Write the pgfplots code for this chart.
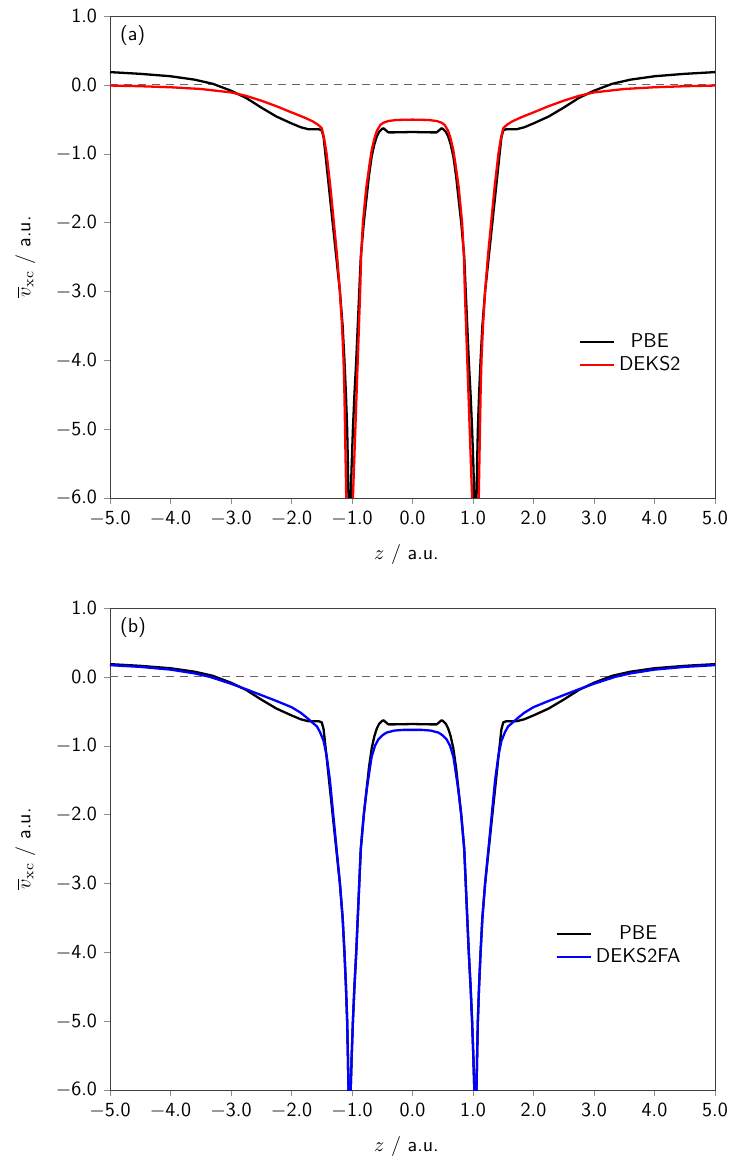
\documentclass[border=0pt]{standalone}
\usepackage{pgfplots}
\pgfplotsset{compat=1.18}
\usepackage{pgfplotstable}

% planar-averaged xc potentials (symmetric in z)
\pgfplotstableread{
z v
-5.00 0.185
-4.50 0.160
-4.00 0.125
-3.60 0.075
-3.30 0.015
-3.00 -0.085
-2.75 -0.19
-2.50 -0.33
-2.25 -0.46
-2.00 -0.56
-1.85 -0.615
-1.72 -0.645
-1.55 -0.645
-1.50 -0.66
-1.47 -0.76
-1.44 -1.00
-1.38 -1.50
-1.32 -2.00
-1.26 -2.50
-1.20 -3.00
-1.155 -3.50
-1.125 -4.00
-1.10 -4.50
-1.08 -5.00
-1.068 -5.50
-1.058 -6.00
-1.04 -6.60
-1.022 -6.00
-1.005 -5.50
-0.985 -5.00
-0.96 -4.50
-0.93 -4.00
-0.905 -3.50
-0.88 -3.00
-0.855 -2.50
-0.805 -2.00
-0.757 -1.62
-0.72 -1.32
-0.675 -1.04
-0.63 -0.86
-0.59 -0.75
-0.55 -0.68
-0.51 -0.645
-0.48 -0.63
-0.44 -0.66
-0.40 -0.69
-0.30 -0.69
0.00 -0.685
0.30 -0.69
0.40 -0.69
0.44 -0.66
0.48 -0.63
0.51 -0.645
0.55 -0.68
0.59 -0.75
0.63 -0.86
0.675 -1.04
0.72 -1.32
0.757 -1.62
0.805 -2.00
0.855 -2.50
0.88 -3.00
0.905 -3.50
0.93 -4.00
0.96 -4.50
0.985 -5.00
1.005 -5.50
1.022 -6.00
1.04 -6.60
1.058 -6.00
1.068 -5.50
1.08 -5.00
1.10 -4.50
1.125 -4.00
1.155 -3.50
1.20 -3.00
1.26 -2.50
1.32 -2.00
1.38 -1.50
1.44 -1.00
1.47 -0.76
1.50 -0.66
1.55 -0.645
1.72 -0.645
1.85 -0.615
2.00 -0.56
2.25 -0.46
2.50 -0.33
2.75 -0.19
3.00 -0.085
3.30 0.015
3.60 0.075
4.00 0.125
4.50 0.160
5.00 0.185
}\pbe

\pgfplotstableread{
z v
-5.00 -0.01
-4.50 -0.02
-4.00 -0.035
-3.50 -0.06
-3.00 -0.11
-2.75 -0.16
-2.50 -0.23
-2.25 -0.31
-2.00 -0.40
-1.80 -0.47
-1.65 -0.53
-1.56 -0.58
-1.50 -0.63
-1.46 -0.78
-1.42 -1.00
-1.355 -1.50
-1.30 -2.00
-1.245 -2.50
-1.20 -3.00
-1.165 -3.50
-1.14 -4.00
-1.125 -4.50
-1.115 -5.00
-1.105 -5.50
-1.095 -6.00
-1.04 -7.60
-0.985 -6.00
-0.965 -5.50
-0.945 -5.00
-0.925 -4.50
-0.905 -4.00
-0.885 -3.50
-0.865 -3.00
-0.85 -2.50
-0.82 -2.00
-0.765 -1.50
-0.71 -1.15
-0.675 -0.95
-0.63 -0.78
-0.59 -0.67
-0.53 -0.58
-0.48 -0.55
-0.40 -0.525
-0.26 -0.51
0.00 -0.505
0.26 -0.51
0.40 -0.525
0.48 -0.55
0.53 -0.58
0.59 -0.67
0.63 -0.78
0.675 -0.95
0.71 -1.15
0.765 -1.50
0.82 -2.00
0.85 -2.50
0.865 -3.00
0.885 -3.50
0.905 -4.00
0.925 -4.50
0.945 -5.00
0.965 -5.50
0.985 -6.00
1.04 -7.60
1.095 -6.00
1.105 -5.50
1.115 -5.00
1.125 -4.50
1.14 -4.00
1.165 -3.50
1.20 -3.00
1.245 -2.50
1.30 -2.00
1.355 -1.50
1.42 -1.00
1.46 -0.78
1.50 -0.63
1.56 -0.58
1.65 -0.53
1.80 -0.47
2.00 -0.40
2.25 -0.31
2.50 -0.23
2.75 -0.16
3.00 -0.11
3.50 -0.06
4.00 -0.035
4.50 -0.02
5.00 -0.01
}\deks

\pgfplotstableread{
z v
-5.00 0.17
-4.50 0.145
-4.00 0.105
-3.60 0.05
-3.35 0.00
-3.00 -0.10
-2.75 -0.18
-2.50 -0.265
-2.25 -0.35
-2.00 -0.44
-1.85 -0.52
-1.75 -0.59
-1.66 -0.66
-1.58 -0.72
-1.53 -0.80
-1.47 -0.93
-1.42 -1.14
-1.365 -1.50
-1.31 -2.00
-1.255 -2.50
-1.20 -3.00
-1.155 -3.50
-1.125 -4.00
-1.10 -4.50
-1.08 -5.00
-1.068 -5.50
-1.058 -6.00
-1.04 -6.60
-1.022 -6.00
-1.005 -5.50
-0.985 -5.00
-0.96 -4.50
-0.93 -4.00
-0.905 -3.50
-0.88 -3.00
-0.855 -2.50
-0.805 -2.00
-0.757 -1.64
-0.70 -1.30
-0.675 -1.16
-0.62 -1.00
-0.565 -0.91
-0.50 -0.85
-0.43 -0.81
-0.30 -0.78
-0.15 -0.77
0.00 -0.77
0.15 -0.77
0.30 -0.78
0.43 -0.81
0.50 -0.85
0.565 -0.91
0.62 -1.00
0.675 -1.16
0.70 -1.30
0.757 -1.64
0.805 -2.00
0.855 -2.50
0.88 -3.00
0.905 -3.50
0.93 -4.00
0.96 -4.50
0.985 -5.00
1.005 -5.50
1.022 -6.00
1.04 -6.60
1.058 -6.00
1.068 -5.50
1.08 -5.00
1.10 -4.50
1.125 -4.00
1.155 -3.50
1.20 -3.00
1.255 -2.50
1.31 -2.00
1.365 -1.50
1.42 -1.14
1.47 -0.93
1.53 -0.80
1.58 -0.72
1.66 -0.66
1.75 -0.59
1.85 -0.52
2.00 -0.44
2.25 -0.35
2.50 -0.265
2.75 -0.18
3.00 -0.10
3.35 0.00
3.60 0.05
4.00 0.105
4.50 0.145
5.00 0.17
}\deksfa

\pgfplotsset{
  vxc/.style={
    scale only axis, width=302.5pt, height=241pt,
    xmin=-5, xmax=5, ymin=-6, ymax=1,
    font=\sffamily,
    axis line style={black!75},
    tick align=outside, major tick length=3pt,
    major tick style={black!45},
    xtick pos=bottom, ytick pos=left,
    xtick={-5,...,5},
    xticklabels={$-$5.0,$-$4.0,$-$3.0,$-$2.0,$-$1.0,0.0,1.0,2.0,3.0,4.0,5.0},
    ytick={-6,...,1},
    yticklabels={$-$6.0,$-$5.0,$-$4.0,$-$3.0,$-$2.0,$-$1.0,0.0,1.0},
    xlabel={$z$ / a.u.},
    ylabel={$\overline{v}_{\mathrm{xc}}$ / a.u.},
    xlabel style={at={(axis description cs:0.49,-0.118)}, anchor=center},
    ylabel style={at={(axis description cs:-0.14,0.5)}, anchor=center},
    legend style={draw=none, fill=none, at={(rel axis cs:0.96,0.30)},
                  anchor=east, font=\sffamily, row sep=-1pt},
    every axis plot/.append style={line width=1.15pt, line join=round},
  },
}

\begin{document}
\begin{tikzpicture}
  \path[use as bounding box] (-55pt,249pt) rectangle (311.5pt,-333.5pt);

  % (a) PBE vs DEKS2
  \begin{axis}[vxc, at={(0,0)}, anchor=south west]
    \addplot[black!60, dash pattern=on 4pt off 3pt, line width=0.5pt, forget plot]
      coordinates {(-5,0) (5,0)};
    \addplot[black] table[x=z, y=v] {\pbe};
    \addplot[red] table[x=z, y=v] {\deks};
    \legend{PBE, DEKS2}
    \node[anchor=north west, font=\sffamily] at (rel axis cs:0.005,0.995) {(a)};
  \end{axis}

  % (b) PBE vs DEKS2FA
  \begin{axis}[vxc, at={(0,-296pt)}, anchor=south west]
    \addplot[black!60, dash pattern=on 4pt off 3pt, line width=0.5pt, forget plot]
      coordinates {(-5,0) (5,0)};
    \addplot[black] table[x=z, y=v] {\pbe};
    \addplot[blue] table[x=z, y=v] {\deksfa};
    \legend{PBE, DEKS2FA}
    \node[anchor=north west, font=\sffamily] at (rel axis cs:0.005,0.995) {(b)};
  \end{axis}
\end{tikzpicture}
\end{document}
